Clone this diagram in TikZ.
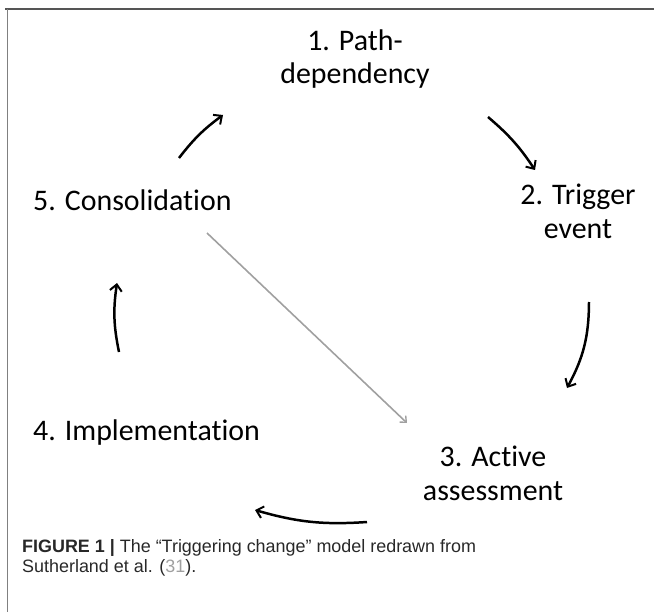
\documentclass[tikz,border=0pt]{standalone}
\usepackage{fontspec}
\usepackage{xcolor}
\usepackage{tikz}
\usetikzlibrary{arrows.meta}
\setmainfont{Carlito}[Ligatures=NoCommon]
\newfontfamily\captionfont{Liberation Sans}
\definecolor{framegray}{RGB}{85, 85, 85}
\definecolor{sidegray}{RGB}{128, 128, 128}
\definecolor{linkgray}{RGB}{160, 160, 160}
\definecolor{captiongray}{RGB}{40, 40, 40}
\tikzset{
    stage/.style={font=\fontsize{30}{34}\selectfont, align=center, anchor=base, inner sep=0pt},
    cycle/.style={line width=2.5pt, -{Straight Barb[length=6.5pt, width=12pt, line width=2pt]}},
}

\begin{document}
\begin{tikzpicture}[x=1bp, y=-1bp]
    \useasboundingbox (0,0) rectangle (654,612);
    % Frame
    \draw[line width=2pt, color=framegray] (5,9) -- (654,9);
    \draw[line width=2pt, color=sidegray] (7.5,9) -- (7.5,612);

    % Stages (base = last line)
    \node[stage] (path) at (355,84) {1. Path-\\dependency};
    \node[stage] (trigger) at (578,238) {2. Trigger\\event};
    \node[stage] (active) at (493,500) {3. Active\\assessment};
    \node[stage, anchor=base west] (impl) at (33,440) {4. Implementation};
    \node[stage, anchor=base west] (consol) at (33,210) {5. Consolidation};

    % Arrow ends
    \coordinate (c1a) at (179,158); \coordinate (c1b) at (223,115);
    \coordinate (c2a) at (488,117); \coordinate (c2b) at (535,170);
    \coordinate (c3a) at (589,302); \coordinate (c3b) at (567,388);
    \coordinate (c4a) at (367,522); \coordinate (c4b) at (255,510);
    \coordinate (c5a) at (119,352); \coordinate (c5b) at (117,283);
    \coordinate (sa) at (207,233); \coordinate (sb) at (407,423);

    % Cycle
    \draw[cycle] (c1a) to[bend left=8] (c1b);
    \draw[cycle] (c2a) to[bend left=8] (c2b);
    \draw[cycle] (c3a) to[bend left=14] (c3b);
    \draw[cycle] (c4a) to[bend left=10] (c4b);
    \draw[cycle] (c5a) to[bend left=10] (c5b);
    \draw[line width=1.6pt, color=linkgray, -{Straight Barb[length=5pt, width=9pt, line width=1.4pt]}] (sa) -- (sb);

    % Caption
    \node[anchor=base west, inner sep=0pt, align=left, color=captiongray,
          font=\captionfont\fontsize{18}{19.5}\selectfont] (caption) at (22,572)
        {\textbf{FIGURE 1 |} The “Triggering change” model redrawn from\\
         Sutherland et al. ({\color{linkgray}31}).};
\end{tikzpicture}
\end{document}
